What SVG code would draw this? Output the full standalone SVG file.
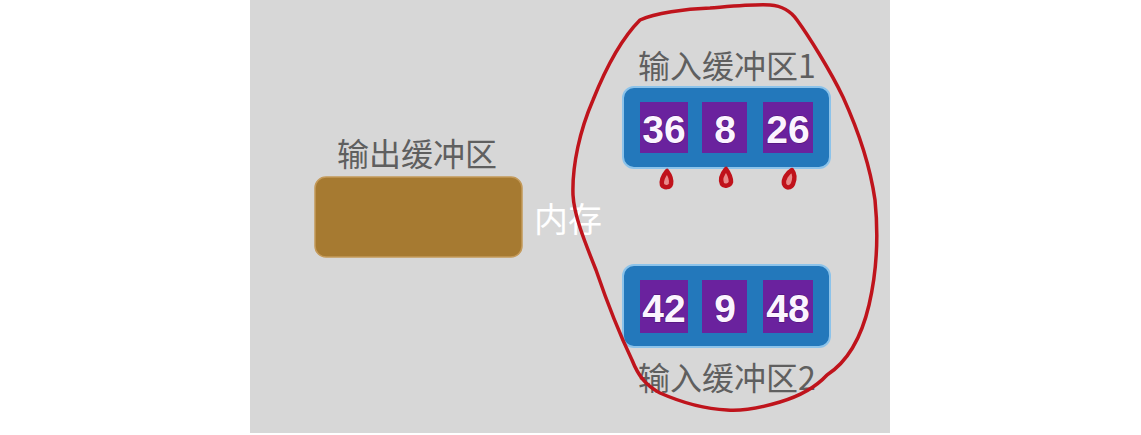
<svg xmlns="http://www.w3.org/2000/svg" width="1141" height="435" viewBox="0 0 1141 435">
<style>
.lbl{font-family:"Noto Sans CJK SC","Liberation Sans",sans-serif;font-size:32px;fill:#5f5f5f;text-anchor:middle}
.num{font-family:"Liberation Sans","DejaVu Sans",sans-serif;font-weight:bold;font-size:39px;fill:#fbf4ff;text-anchor:middle;stroke:#4a1070;stroke-width:1;paint-order:stroke}
.buf{fill:#2378bb;stroke:#8cc3ea;stroke-width:2}
.cell{fill:#6a229e}
.red{fill:none;stroke:#bf141c;stroke-width:3.5;stroke-linejoin:round;stroke-linecap:round}
.drop{fill:#e88a8a;stroke:#c0121b;stroke-width:4.5;stroke-linejoin:round}
</style>
<rect x="0" y="0" width="1141" height="435" fill="#ffffff"/>
<rect x="250" y="0" width="640" height="433" fill="#d7d7d7"/>

<g id="output-buffer">
<text class="lbl" x="417" y="166">输出缓冲区</text>
<rect x="315" y="177" width="207" height="80" rx="11" fill="#a67a31" stroke="#c49a5a" stroke-width="1.5"/>
</g>

<g id="memory-label">
<text x="568" y="232" font-family="Noto Sans CJK SC, sans-serif" font-size="34" fill="#ffffff" text-anchor="middle">内存</text>
</g>

<g id="input-buffer-1">
<text class="lbl" x="727" y="78">输入缓冲区1</text>
<rect class="buf" x="623" y="87" width="207" height="81" rx="11"/>
<rect class="cell" x="640" y="102" width="48" height="51"/>
<rect class="cell" x="702" y="102" width="45" height="51"/>
<rect class="cell" x="763" y="102" width="50" height="51"/>
<text class="num" x="664" y="143">36</text>
<text class="num" x="725" y="143">8</text>
<text class="num" x="788" y="143">26</text>
</g>

<g id="input-buffer-2">
<rect class="buf" x="623" y="265" width="207" height="82" rx="11"/>
<rect class="cell" x="640" y="280" width="48" height="53"/>
<rect class="cell" x="702" y="280" width="45" height="53"/>
<rect class="cell" x="763" y="280" width="50" height="53"/>
<text class="num" x="664" y="322">42</text>
<text class="num" x="725" y="322">9</text>
<text class="num" x="788" y="322">48</text>
<text class="lbl" x="727" y="390">输入缓冲区2</text>
</g>

<g id="annotations">
<path class="red" d="M640,20 C655,13 685,9 710,8 C735,6 755,4 770,5 C782,6 790,10 797,20 C808,35 830,70 843,97 C858,130 870,165 875,200 C879,240 876,275 869,305 C862,335 850,360 827,375 C815,388 800,396 780,402 C760,408 740,411 727,410 C705,409 685,404 660,393 C645,385 638,375 632,360 C620,335 608,305 596,270 C584,240 574,215 573,195 C572,165 580,130 593,100 C605,70 620,40 640,20"/>
<path class="drop" d="M667,171 C663,176 661,181 662,185 C664,188 670,188 671,184 C672,179 670,175 667,171 Z"/>
<path class="drop" d="M726,169 C722,174 720,180 722,184 C724,187 730,186 731,182 C731,177 729,173 726,169 Z"/>
<path class="drop" d="M792,170 C787,173 783,179 784,184 C786,189 791,188 793,184 C795,179 795,174 792,170 Z"/>
</g>
</svg>
